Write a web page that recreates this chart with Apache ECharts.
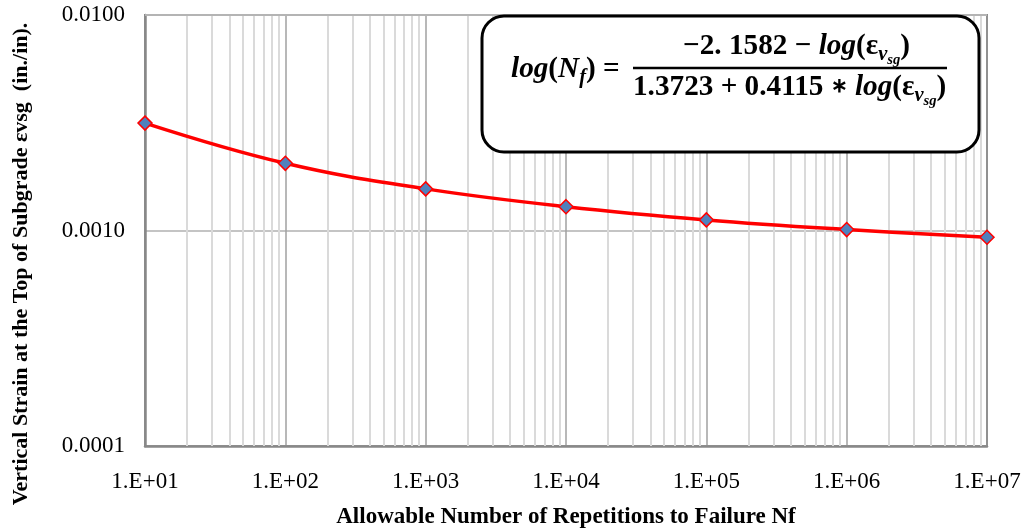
<!DOCTYPE html>
<html>
<head>
<meta charset="utf-8">
<script src="https://cdn.jsdelivr.net/npm/echarts@6/dist/echarts.min.js"></script>
<style>
html,body{margin:0;padding:0;background:#fff;overflow:hidden;}
#chart{width:1026px;height:531px;}
</style>
</head>
<body>
<div id="chart"></div>
<script>
// ---- data ----
var repetitions = [10, 100, 1000, 10000, 100000, 1000000, 10000000];
var strainValues = [0.00315, 0.00205, 0.00156, 0.00129, 0.00112, 0.00101, 0.00093];
var xTickLabels = ['1.E+01','1.E+02','1.E+03','1.E+04','1.E+05','1.E+06','1.E+07'];
var yTickLabels = ['0.0001','0.0010','0.0100'];
var xAxisTitle = 'Allowable Number of Repetitions to Failure Nf';
var yAxisTitle = 'Vertical Strain at the Top of Subgrade \u03b5vsg  (in./in).';

// minor grid positions (2..9 per decade)
var xMinor = [];
for (var e = 1; e < 7; e++) { for (var m = 2; m <= 9; m++) xMinor.push(m * Math.pow(10, e)); }
var yMinor = [];
for (var e2 = -4; e2 < -2; e2++) { for (var m2 = 2; m2 <= 9; m2++) yMinor.push(+(m2 * Math.pow(10, e2)).toPrecision(3)); }

var chart = echarts.init(document.getElementById('chart'));

var GL = 145, GT = 15, GR = 987, GB = 446;

// ---- equation builder ----
var cv = document.createElement('canvas');
var cx = cv.getContext('2d');
var FAM = '"Liberation Serif"';
function fontStr(st, size){ return (st === 'bi' ? 'italic bold ' : 'bold ') + size.toFixed(2) + 'px ' + FAM; }
function measureLine(pieces, fs){
  var w = 0;
  pieces.forEach(function(p){ cx.font = fontStr(p.st, fs * (p.s || 1)); w += cx.measureText(p.t).width; });
  return w;
}
function buildLine(pieces, fs, x0, yMid){
  var out = [], x = x0;
  pieces.forEach(function(p){
    var size = fs * (p.s || 1);
    var f = fontStr(p.st, size);
    cx.font = f;
    var w = cx.measureText(p.t).width;
    out.push({type:'text', x:x, y:yMid + (p.dy || 0) * fs, z:101,
      style:{text:p.t, font:f, fill:'#000', textAlign:'left', textVerticalAlign:'middle', verticalAlign:'middle'}});
    x += w;
  });
  return out;
}
var leftPart = [
  {t:'log', st:'bi'}, {t:'(', st:'b'}, {t:'N', st:'bi'}, {t:'f', st:'bi', s:0.7, dy:0.3}, {t:')', st:'b'}, {t:' = ', st:'b'}
];
var numer = [
  {t:'\u22122. 1582 \u2212 ', st:'b'}, {t:'log', st:'bi'}, {t:'(', st:'b'}, {t:'\u03b5', st:'b'},
  {t:'v', st:'bi', s:0.7, dy:0.3}, {t:'sg', st:'bi', s:0.5, dy:0.5}, {t:')', st:'b'}
];
var denom = [
  {t:'1.3723 + 0.4115 ', st:'b'}, {t:'\u2217', st:'b', s:0.7}, {t:' ', st:'b'}, {t:'log', st:'bi'}, {t:'(', st:'b'}, {t:'\u03b5', st:'b'},
  {t:'v', st:'bi', s:0.7, dy:0.3}, {t:'sg', st:'bi', s:0.5, dy:0.5}, {t:')', st:'b'}
];
var fracX1 = 633, fracX2 = 947, fracY = 68;
var fs = 20 * (fracX2 - fracX1) / measureLine(denom, 20);
var eqEls = [];
eqEls.push({type:'rect', z:100, shape:{x:482, y:16, width:497, height:136, r:22},
  style:{fill:'#fff', stroke:'#000', lineWidth:3}});
eqEls.push({type:'line', z:101, shape:{x1:fracX1, y1:fracY, x2:fracX2, y2:fracY}, style:{stroke:'#000', lineWidth:2.5}});
var wl = measureLine(leftPart, fs);
eqEls = eqEls.concat(buildLine(leftPart, fs, 627 - wl, 69));
var wn = measureLine(numer, fs);
eqEls = eqEls.concat(buildLine(numer, fs, 910 - wn, 46));
eqEls = eqEls.concat(buildLine(denom, fs, fracX1, 87));

var option = {
  animation: false,
  backgroundColor: '#fff',
  grid: {left: GL, top: GT, right: 1026 - GR, bottom: 531 - GB, show: true, borderColor: '#333', borderWidth: 1.5,
    containLabel: false, outerBoundsMode: 'none'},
  xAxis: {
    type: 'log', logBase: 10, min: 10, max: 10000000, splitNumber: 6,
    axisLine: {show: true, lineStyle: {color: '#888', width: 2.5}},
    axisTick: {show: false},
    axisLabel: {
      margin: 24, color: '#000', fontFamily: '"Liberation Serif"', fontSize: 23,
      formatter: function(v){ var k = Math.round(Math.log10(v)); return xTickLabels[k - 1] || ''; }
    },
    splitLine: {show: true, lineStyle: {color: '#a0a0a0', width: 1.5}},
    name: xAxisTitle, nameLocation: 'middle', nameGap: 60,
    nameTextStyle: {color: '#000', fontFamily: '"Liberation Serif"', fontWeight: 'bold', fontSize: 23}
  },
  yAxis: {
    type: 'log', logBase: 10, min: 0.0001, max: 0.01, splitNumber: 2,
    axisLine: {show: true, lineStyle: {color: '#888', width: 2.5}},
    axisTick: {show: false},
    axisLabel: {
      margin: 20, color: '#000', fontFamily: '"Liberation Serif"', fontSize: 23,
      formatter: function(v){ var k = Math.round(Math.log10(v)); return yTickLabels[k + 4] || ''; }
    },
    splitLine: {show: true, lineStyle: {color: '#b0b0b0', width: 1.5}}
  },
  graphic: [
    {type:'text', x:21, y:264, rotation: Math.PI / 2, z: 50,
      style:{text: yAxisTitle, font:'bold 22px "Liberation Serif"', fill:'#000', textAlign:'center', textVerticalAlign:'middle', verticalAlign:'middle'}}
  ].concat(eqEls),
  series: [
    {
      type: 'line', data: [], z: 1, silent: true,
      markLine: {
        silent: true, symbol: ['none','none'], animation: false,
        label: {show: false},
        lineStyle: {type: 'solid', color: '#dadada', width: 2},
        data: xMinor.map(function(v){ return {xAxis: v}; })
      }
    },
    {
      type: 'line', data: [], z: 1, silent: true,
      markLine: {
        silent: true, symbol: ['none','none'], animation: false,
        label: {show: false},
        lineStyle: {type: 'solid', color: '#b5b5b5', width: 1.5},
        data: yMinor.map(function(v){ return {yAxis: v}; })
      }
    },
    {
      type: 'line', z: 5,
      data: repetitions.map(function(x, i){ return [x, strainValues[i]]; }),
      smooth: 0.4,
      lineStyle: {color: '#ff0000', width: 3.5},
      symbol: 'diamond', symbolSize: 14,
      itemStyle: {color: '#4f81bd', borderColor: '#ff0000', borderWidth: 1.5},
      clip: false
    }
  ]
};
chart.setOption(option);
</script>
</body>
</html>
